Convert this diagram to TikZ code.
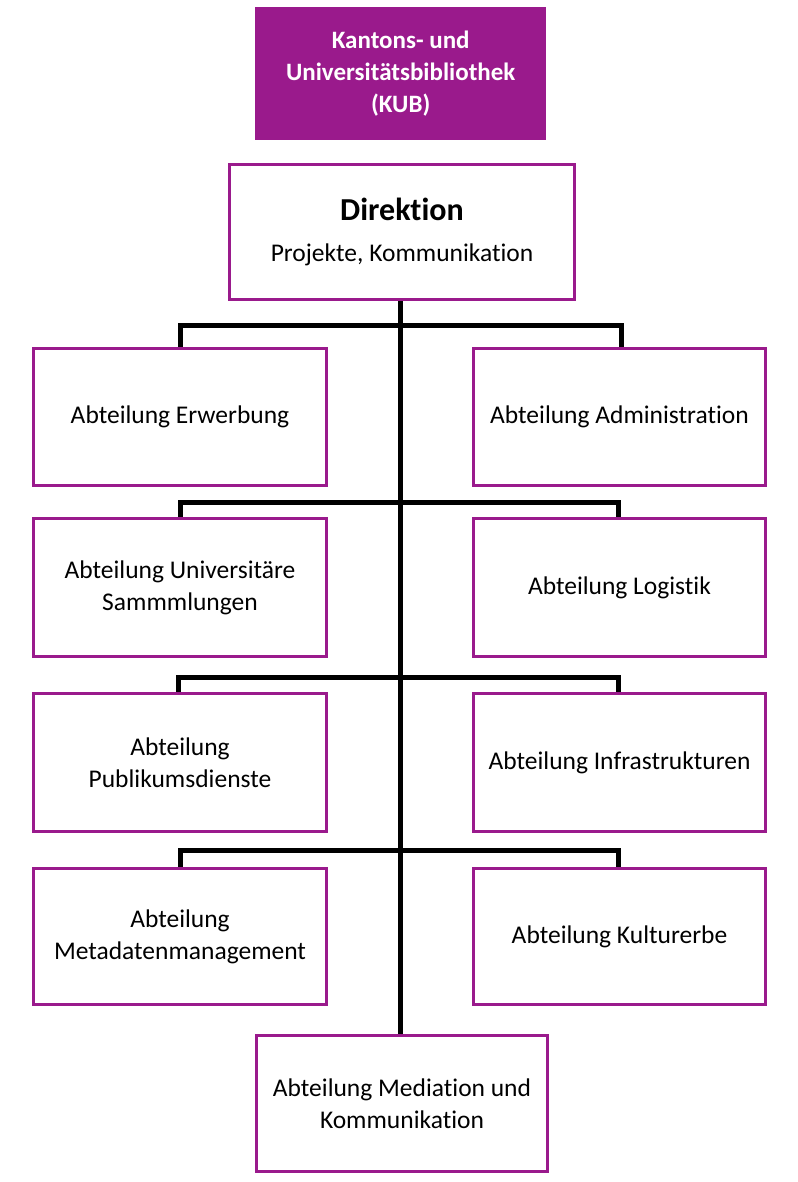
\documentclass[tikz,border=0pt]{standalone}
\usepackage{fontspec}
\setmainfont[Ligatures=CommonOff]{Carlito}
\definecolor{kub}{HTML}{9A1A8C}
\begin{document}
\begin{tikzpicture}[x=1pt,y=-1pt,
  box/.style={draw=kub,line width=3pt,fill=white,align=center,font=\fontsize{25.5}{32}\selectfont,inner sep=0pt},
  conn/.style={line width=5pt,black}]
\useasboundingbox (0,0) rectangle (797,1182);
\coordinate (top) at (400,298);
\coordinate (bot) at (400,1034);
\draw[conn] (top) -- (bot);
\foreach \y/\l/\r in {325/180/621,502/180/618,677/178/618,850/180/618}{
  \draw[conn,line cap=rect] (\l,\y+20) -- (\l,\y) -- (\r,\y) -- (\r,\y+20);
}
\node[fill=kub,minimum width=291pt,minimum height=133pt,anchor=north west,text=white,align=center,font=\fontsize{25}{32}\selectfont\bfseries,inner sep=0pt] (kub) at (255,7) {Kantons- und\\Universitätsbibliothek\\(KUB)};
\node[box,minimum width=345pt,minimum height=135pt,anchor=north west] (dir) at (228,163) {{\fontsize{32}{38}\selectfont\bfseries Direktion}\\[9pt]Projekte, Kommunikation};
\node[box,minimum width=293pt,minimum height=137pt,anchor=north west] (erw) at (32,347) {Abteilung Erwerbung};
\node[box,minimum width=292pt,minimum height=137pt,anchor=north west] (adm) at (472,347) {Abteilung Administration};
\node[box,minimum width=293pt,minimum height=138pt,anchor=north west] (uni) at (32,517) {Abteilung Universitäre\\Sammmlungen};
\node[box,minimum width=292pt,minimum height=138pt,anchor=north west] (log) at (472,517) {Abteilung Logistik};
\node[box,minimum width=293pt,minimum height=138pt,anchor=north west] (pub) at (32,692) {Abteilung\\Publikumsdienste};
\node[box,minimum width=292pt,minimum height=138pt,anchor=north west] (inf) at (472,692) {Abteilung Infrastrukturen};
\node[box,minimum width=293pt,minimum height=136pt,anchor=north west] (met) at (32,867) {Abteilung\\Metadatenmanagement};
\node[box,minimum width=292pt,minimum height=136pt,anchor=north west] (kul) at (472,867) {Abteilung Kulturerbe};
\node[box,minimum width=291pt,minimum height=136pt,anchor=north west] (med) at (255,1034) {Abteilung Mediation und\\Kommunikation};
\end{tikzpicture}
\end{document}
